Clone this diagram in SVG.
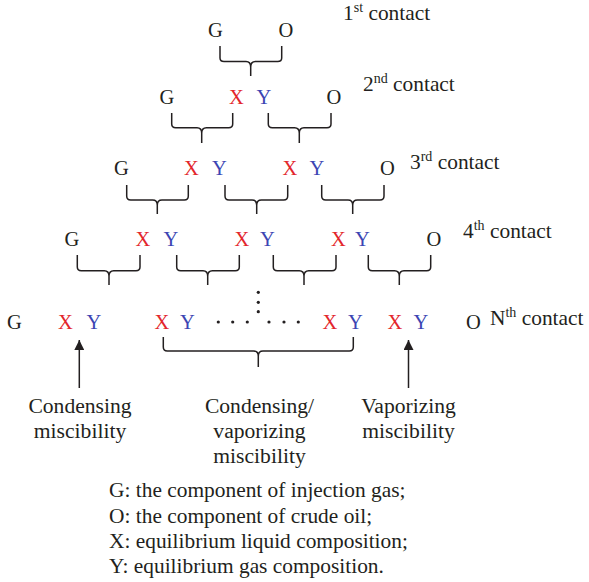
<svg xmlns="http://www.w3.org/2000/svg" width="589" height="582" viewBox="0 0 589 582">
<style>
text{font-family:"Liberation Serif","Times New Roman",serif;fill:#231f20}
.l{font-size:20.5px;text-anchor:middle}
.x{fill:#e3262b}
.y{fill:#3c45b3}
.lab{font-size:21.4px}
.sup{font-size:14px}
.c{font-size:21.6px;text-anchor:middle}
.br{fill:none;stroke:#231f20;stroke-width:1.5}
.dot{fill:#231f20}
</style>
<defs>
<marker id="ah" viewBox="0 0 10 10" refX="10" refY="5" markerWidth="10" markerHeight="10" markerUnits="userSpaceOnUse" orient="auto">
<path d="M0,0 L10,5 L0,10 Z" fill="#231f20"/>
</marker>
</defs>
<g id="labels">
<text class="lab" x="343" y="20">1<tspan class="sup" dy="-8">st</tspan><tspan dy="8"> contact</tspan></text>
<text class="lab" x="363" y="91">2<tspan class="sup" dy="-8">nd</tspan><tspan dy="8"> contact</tspan></text>
<text class="lab" x="410" y="169">3<tspan class="sup" dy="-8">rd</tspan><tspan dy="8"> contact</tspan></text>
<text class="lab" x="463" y="238">4<tspan class="sup" dy="-8">th</tspan><tspan dy="8"> contact</tspan></text>
<text class="lab" x="490" y="325">N<tspan class="sup" dy="-8">th</tspan><tspan dy="8"> contact</tspan></text>
</g>
<g id="row1">
<text class="l" x="215.5" y="37">G</text><text class="l" x="286" y="37">O</text>
</g>
<g id="row2">
<text class="l" x="167" y="104">G</text><text class="l x" x="236.5" y="104">X</text><text class="l y" x="264" y="104">Y</text><text class="l" x="334" y="104">O</text>
</g>
<g id="row3">
<text class="l" x="121.5" y="175">G</text><text class="l x" x="191.5" y="175">X</text><text class="l y" x="219.5" y="175">Y</text><text class="l x" x="290" y="175">X</text><text class="l y" x="317" y="175">Y</text><text class="l" x="387.5" y="175">O</text>
</g>
<g id="row4">
<text class="l" x="72" y="246">G</text><text class="l x" x="143" y="246">X</text><text class="l y" x="171" y="246">Y</text><text class="l x" x="242" y="246">X</text><text class="l y" x="267.5" y="246">Y</text><text class="l x" x="338.5" y="246">X</text><text class="l y" x="362.5" y="246">Y</text><text class="l" x="434" y="246">O</text>
</g>
<g id="rowN">
<text class="l" x="14.5" y="329">G</text><text class="l x" x="65.5" y="329">X</text><text class="l y" x="94" y="329">Y</text><text class="l x" x="162" y="329">X</text><text class="l y" x="187.5" y="329">Y</text><text class="l x" x="330" y="329">X</text><text class="l y" x="355.5" y="329">Y</text><text class="l x" x="395" y="329">X</text><text class="l y" x="421" y="329">Y</text><text class="l" x="473.5" y="329">O</text>
</g>
<g id="ellipsis">
<circle class="dot" cx="218.3" cy="322" r="1.6"/><circle class="dot" cx="232.7" cy="322" r="1.6"/><circle class="dot" cx="247.3" cy="322" r="1.6"/>
<circle class="dot" cx="269" cy="322" r="1.6"/><circle class="dot" cx="284" cy="322" r="1.6"/><circle class="dot" cx="298.3" cy="322" r="1.6"/>
<circle class="dot" cx="258.3" cy="292.3" r="1.6"/><circle class="dot" cx="258.3" cy="302.3" r="1.6"/><circle class="dot" cx="258.3" cy="311.7" r="1.6"/>
</g>
<g id="connectors">
<path class="br" d="M220,46 V58 Q220,61.5 224,61.5 H246 Q250.7,61.5 250.7,67 V76 M281.7,46 V58 Q281.7,61.5 277.7,61.5 H255.4 Q250.7,61.5 250.7,67"/>
<path class="br" d="M171.7,113 V124 Q171.7,127.7 175.7,127.7 H197 Q201.7,127.7 201.7,133 V143 M232.7,113 V124 Q232.7,127.7 228.7,127.7 H206.4 Q201.7,127.7 201.7,133"/>
<path class="br" d="M268.3,113 V124 Q268.3,127.7 272.3,127.7 H294.6 Q299.3,127.7 299.3,133 V143 M331,113 V124 Q331,127.7 327,127.7 H304 Q299.3,127.7 299.3,133"/>
<path class="br" d="M126.7,185 V196 Q126.7,200 130.7,200 H152.6 Q157.3,200 157.3,205 V214 M188.3,185 V196 Q188.3,200 184.3,200 H162 Q157.3,200 157.3,205"/>
<path class="br" d="M225,185 V196 Q225,200 229,200 H252 Q256.7,200 256.7,205 V214 M287.7,185 V196 Q287.7,200 283.7,200 H261.4 Q256.7,200 256.7,205"/>
<path class="br" d="M321.7,185 V196 Q321.7,200 325.7,200 H348 Q352.7,200 352.7,205 V214 M384,185 V196 Q384,200 380,200 H357.4 Q352.7,200 352.7,205"/>
<path class="br" d="M77.3,255 V267 Q77.3,270.7 81.3,270.7 H104.3 Q109,270.7 109,276 V285 M140,255 V267 Q140,270.7 136,270.7 H113.7 Q109,270.7 109,276"/>
<path class="br" d="M176.7,255 V267 Q176.7,270.7 180.7,270.7 H203 Q207.7,270.7 207.7,276 V285 M239.3,255 V267 Q239.3,270.7 235.3,270.7 H212.4 Q207.7,270.7 207.7,276"/>
<path class="br" d="M273.3,255 V267 Q273.3,270.7 277.3,270.7 H299.3 Q304,270.7 304,276 V285 M336,255 V267 Q336,270.7 332,270.7 H308.7 Q304,270.7 304,276"/>
<path class="br" d="M368.3,255 V267 Q368.3,270.7 372.3,270.7 H394.6 Q399.3,270.7 399.3,276 V285 M430.7,255 V267 Q430.7,270.7 426.7,270.7 H404 Q399.3,270.7 399.3,276"/>
<path class="br" d="M163.3,337 V347 Q163.3,351 167.3,351 H253.6 Q258.3,351 258.3,356 V367 M353.3,337 V347 Q353.3,351 349.3,351 H263 Q258.3,351 258.3,356"/>
<line x1="79.3" y1="388" x2="79.3" y2="340" stroke="#231f20" stroke-width="1.5" marker-end="url(#ah)"/>
<line x1="408.5" y1="388" x2="408.5" y2="340" stroke="#231f20" stroke-width="1.5" marker-end="url(#ah)"/>
</g>
<g id="outcomes">
<text class="c" x="80" y="413">Condensing</text>
<text class="c" x="80" y="438">miscibility</text>
<text class="c" x="259.5" y="413">Condensing/</text>
<text class="c" x="259.5" y="438">vaporizing</text>
<text class="c" x="259.5" y="463">miscibility</text>
<text class="c" x="408.5" y="413">Vaporizing</text>
<text class="c" x="408.5" y="438">miscibility</text>
</g>
<g id="legend">
<text class="lab" x="109" y="497">G: the component of injection gas;</text>
<text class="lab" x="109" y="523">O: the component of crude oil;</text>
<text class="lab" x="109" y="548">X: equilibrium liquid composition;</text>
<text class="lab" x="109" y="573">Y: equilibrium gas composition.</text>
</g>
</svg>
